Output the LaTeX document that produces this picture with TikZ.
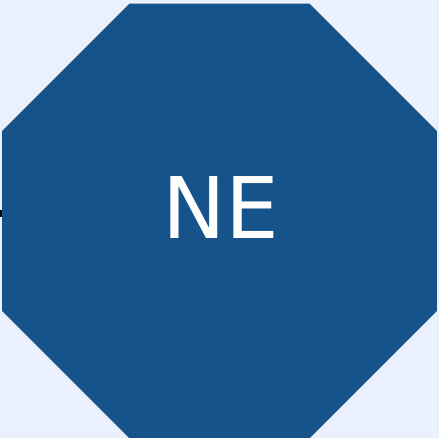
\documentclass[tikz,border=0pt]{standalone}
\usepackage{fontspec}
\setmainfont{DejaVu Sans}
\usetikzlibrary{shapes.geometric,backgrounds}
\definecolor{bgc}{RGB}{234,240,252}
\definecolor{octc}{RGB}{21,83,138}
\tikzset{
  octbox/.style={regular polygon, regular polygon sides=8, minimum size=470.4pt, inner sep=0pt, fill=octc, draw=none},
  nelabel/.style={text=white, font=\fontsize{85}{85}\selectfont, inner sep=0pt, anchor=base},
  stubline/.style={line width=7pt, draw=black}
}
\begin{document}
\begin{tikzpicture}[x=1pt,y=1pt]
  \useasboundingbox (0,0) rectangle (439,438);
  \node[octbox] (oct) at (219.5,217) {};
  \node[nelabel] (ne) at (221,199) {NE};
  \coordinate (stub) at (-30,224.5);
  \begin{pgfonlayer}{background}
    \fill[bgc] (0,0) rectangle (439,438);
    \draw[stubline] (stub) -- (stub -| oct.center);
  \end{pgfonlayer}
\end{tikzpicture}
\end{document}
